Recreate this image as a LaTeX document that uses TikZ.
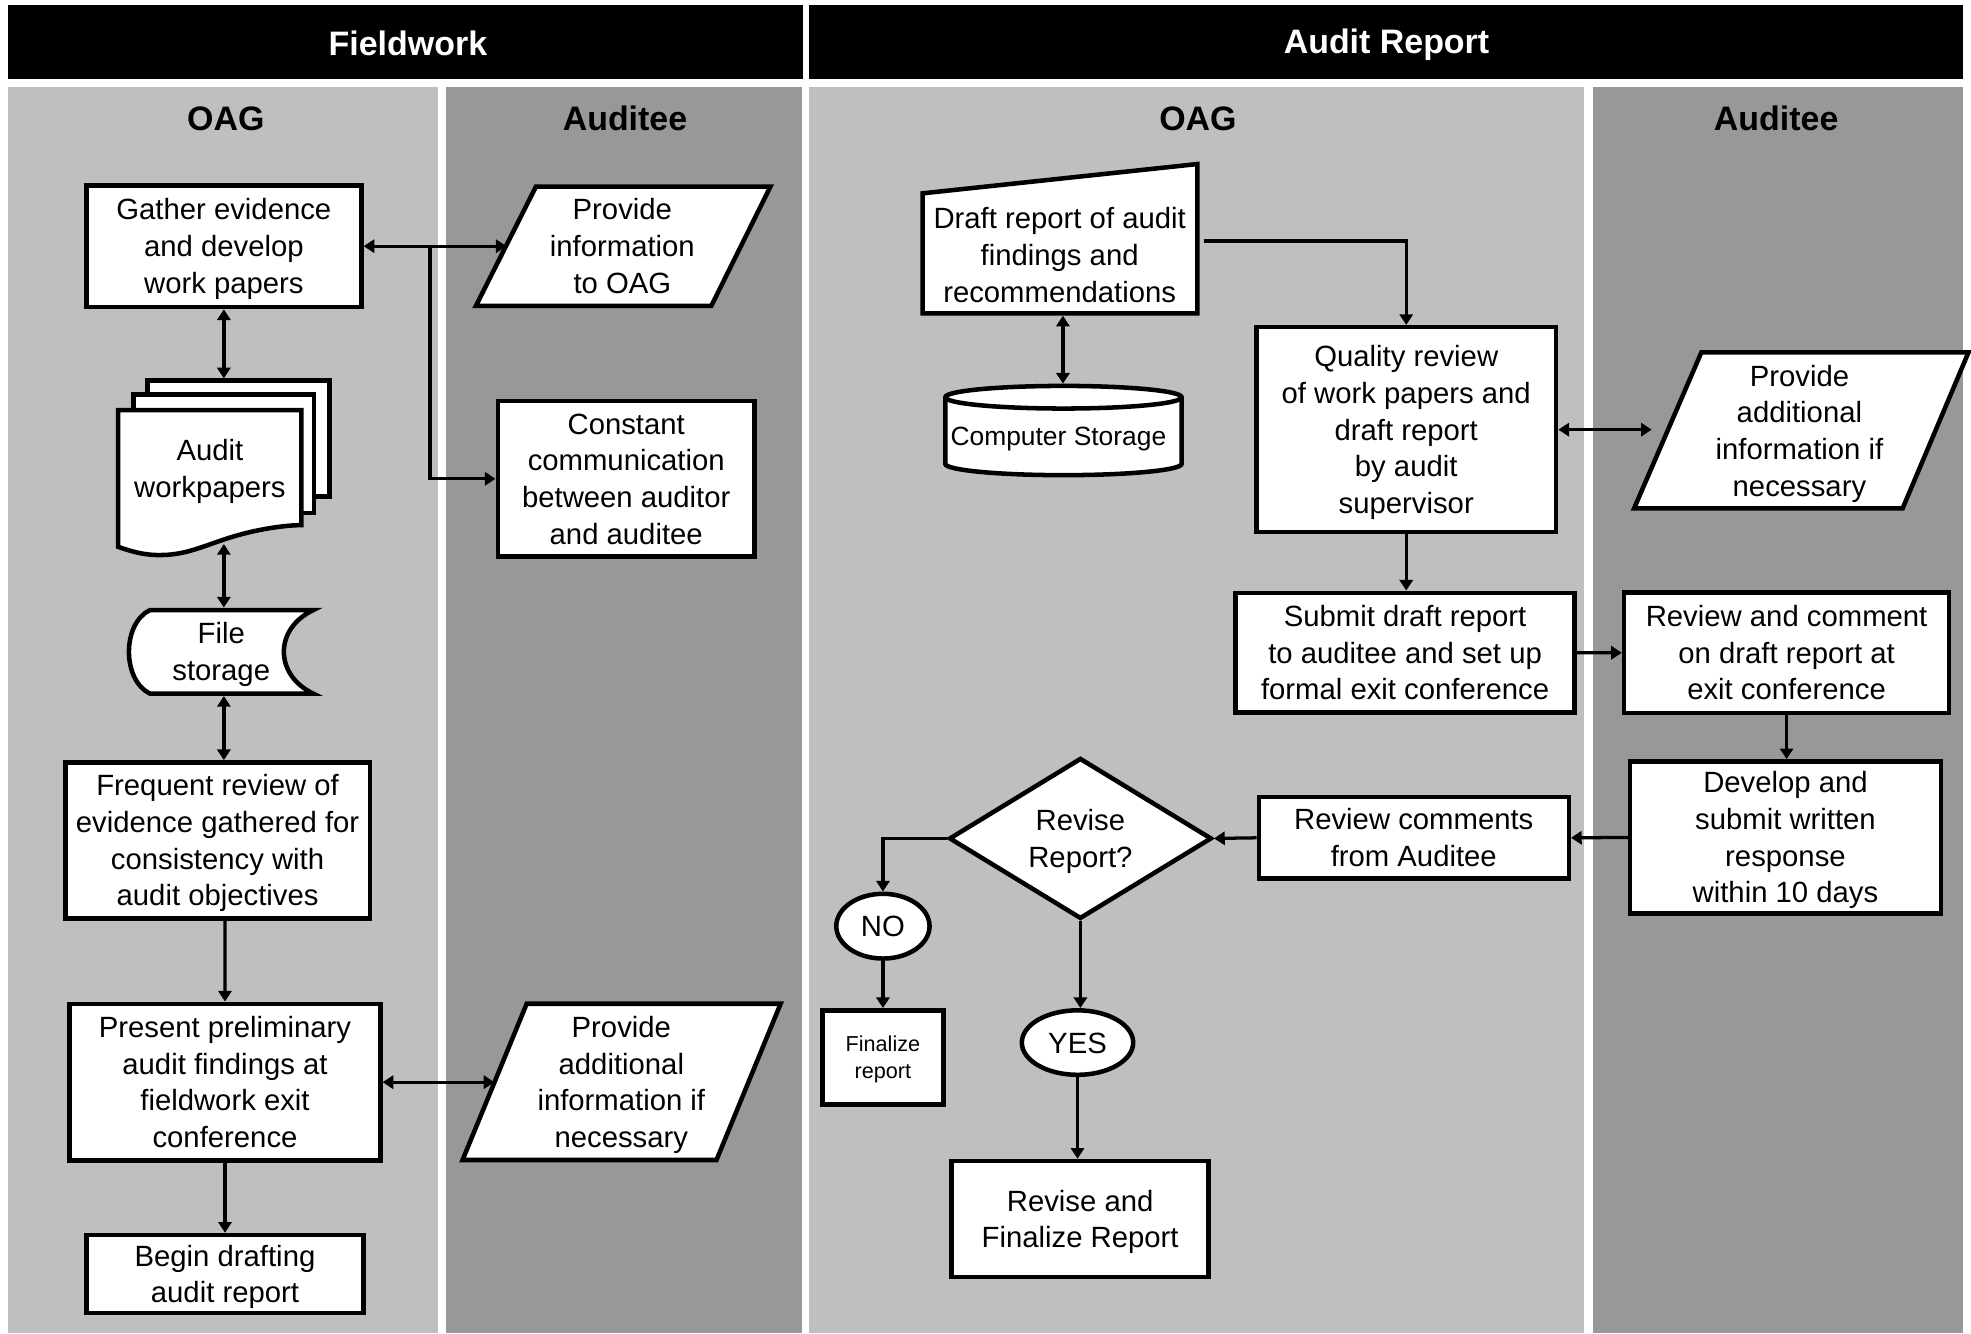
\documentclass[tikz,border=0pt]{standalone}
\usepackage{fontspec}
\setmainfont{Liberation Sans}
\usetikzlibrary{arrows.meta,shapes.geometric,calc}
\definecolor{lanelight}{RGB}{191,191,191}
\definecolor{lanedark}{RGB}{152,152,152}
\newcommand\bodyfont{\fontsize{23.3}{29.2}\selectfont}
\newcommand\headfont{\fontsize{27}{32}\selectfont\bfseries}
\newcommand\bstrut{\rule[-6.3pt]{0pt}{29.2pt}}
\newcommand\hstrut{\rule[-2.3pt]{0pt}{24pt}}
\newcommand\sstrut{\rule[-2.5pt]{0pt}{20pt}}
\newcommand\fstrut{\rule[-4.6pt]{0pt}{21.5pt}}
\newcommand\TB[1]{\bstrut#1\bstrut}
\newcommand\TF[1]{\fstrut#1\fstrut}
\begin{document}
\begin{tikzpicture}[x=1pt,y=-1pt,
  shp/.style={draw=black, line width=3.6pt, fill=white, line join=miter},
  box/.style={shp, rectangle, inner sep=0pt, align=center, font=\bodyfont},
  txt/.style={inner sep=0pt, align=center, font=\bodyfont},
  oval/.style={shp, ellipse, inner sep=0pt, font=\bodyfont,
    execute at begin node=\bstrut, execute at end node=\bstrut},
  arr/.style={line width=2.6pt, -{Triangle[length=8.5pt,width=10.5pt]}},
  darr/.style={line width=2.6pt, {Triangle[length=8.5pt,width=10.5pt]}-{Triangle[length=8.5pt,width=10.5pt]}},
  head/.style={text=white, font=\headfont, inner sep=0pt,
    execute at begin node=\hstrut, execute at end node=\hstrut},
  lanelabel/.style={text=black, font=\headfont, inner sep=0pt,
    execute at begin node=\hstrut, execute at end node=\hstrut}]
\useasboundingbox (0,0) rectangle (1568,1060.5);
\fill[white] (0,0) rectangle (1568,1060.5);
% headers
\fill[black] (6.2,4.3) rectangle (638.5,62.9);
\fill[black] (643.6,4.3) rectangle (1561.7,62.9);
\node[head] (hfw) at (324.5,34.5) {Fieldwork};
\node[head] (har) at (1103,34.8) {Audit Report};
% lanes
\fill[lanelight] (6.2,69.3) rectangle (348.7,1060.5);
\fill[lanedark] (354.5,69.3) rectangle (637.8,1060.5);
\fill[lanelight] (643.6,69.3) rectangle (1260.4,1060.5);
\fill[lanedark] (1267.5,69.3) rectangle (1561.7,1060.5);
\node[lanelabel] (l1) at (179.7,94.1) {OAG};
\node[lanelabel] (l2) at (497.2,94.1) {Auditee};
\node[lanelabel] (l3) at (953,94.1) {OAG};
\node[lanelabel] (l4) at (1413,94.1) {Auditee};

% ===== Fieldwork =====
\node[box, minimum width=218.8pt, minimum height=96.9pt] (gather) at (178.1,195.85)
  {\TB{Gather evidence\\and develop\\work papers}};
% provide information parallelogram
\draw[shp] (426.4,148.4) -- (612.9,148.4) -- (565.9,243.3) -- (378.6,243.3) -- cycle;
\node[txt] (provinfo) at (495.1,195.7) {\TB{Provide\\information\\to OAG}};
\coordinate (provinfoW) at (403,195.85);
% audit workpapers (multi-document)
\draw[shp] (117.5,302.9) rectangle (262,395);
\draw[shp] (106,314) rectangle (249.8,408);
\draw[shp] (94,326.2) -- (239.7,326.2) -- (239.7,417.7)
  .. controls (225,418) and (205,421) .. (185,427)
  .. controls (165,433) and (150,441) .. (130,441.5)
  .. controls (118,442) and (108,440) .. (94,435) -- cycle;
\node[txt] (wp) at (167,372.5) {\TB{Audit\\workpapers}};
\coordinate (wpN) at (178.1,301);
\coordinate (wpS) at (178.1,432.8);
% constant communication
\node[box, minimum width=204.4pt, minimum height=124pt] (constant) at (498.2,380.9)
  {\TB{Constant\\communication\\between auditor\\and auditee}};
% file storage
\draw[shp] (119.3,485.3) -- (249.3,485.3) .. controls (218,500) and (218,537) .. (249.3,551.8)
  -- (119.3,551.8) .. controls (97,541) and (97,496) .. (119.3,485.3) -- cycle;
\node[txt] (fstore) at (176,518.4) {\TB{File\\storage}};
\coordinate (fsN) at (178.1,483.3);
\coordinate (fsS) at (178.1,553.7);
% frequent review
\node[box, minimum width=242.2pt, minimum height=124pt] (frequent) at (173.1,668.5)
  {\TB{Frequent review of\\evidence gathered for\\consistency with\\audit objectives}};
% present preliminary
\node[box, minimum width=247.1pt, minimum height=124.7pt] (present) at (179,860.9)
  {\TB{Present preliminary\\audit findings at\\fieldwork exit\\conference}};
% provide additional (fieldwork)
\draw[shp] (419,798.5) -- (621,798.5) -- (570,922.8) -- (368,922.8) -- cycle;
\node[txt] (provaddF) at (494.3,860.9) {\TB{Provide\\additional\\information if\\necessary}};
\coordinate (provaddFW) at (393.3,860.9);
% begin drafting
\node[box, minimum width=220.5pt, minimum height=62pt] (begin) at (179,1013.5)
  {\TB{Begin drafting\\audit report}};

% Fieldwork connectors
\coordinate (br) at (342,195.85);
\draw[darr] (gather.east) -- (provinfoW);
\draw[arr] (br) |- (constant.west);
\draw[darr] (gather.south -| wpN) -- (wpN);
\draw[darr] (wpS) -- (fsN);
\draw[darr] (fsS) -- (fsS |- frequent.north);
\draw[arr] ([xshift=5.8pt]frequent.south) -- (present.north);
\draw[darr] (present.east) -- (provaddFW);
\draw[arr] (present.south) -- (begin.north);

% ===== Audit Report =====
% draft report (manual input)
\draw[shp] (734,153.8) -- (952.5,130.5) -- (952.5,249.3) -- (734,249.3) -- cycle;
\node[txt] (draft) at (843,202.8) {\TB{Draft report of audit\\findings and\\recommendations}};
\coordinate (draftS) at (845.6,251.1);
\coordinate (draftE) at (958,191.8);
% computer storage cylinder
\draw[shp] (752,316) -- (752,369) arc[start angle=180, end angle=360, x radius=94pt, y radius=9pt]
  -- (940,316) arc[start angle=0, end angle=180, x radius=94pt, y radius=9pt] -- cycle;
\draw[draw=black, line width=3.6pt] (752,316) arc[start angle=180, end angle=360, x radius=94pt, y radius=9pt];
\node[inner sep=0pt, font=\fontsize{21}{25}\selectfont, execute at begin node=\sstrut, execute at end node=\sstrut]
  (cstore) at (842,347.5) {Computer Storage};
\coordinate (cstoreN) at (845.6,305.2);
% quality review
\node[box, minimum width=238.4pt, minimum height=163pt] (quality) at (1118.7,341.8)
  {\TB{Quality review\\of work papers and\\draft report\\by audit\\supervisor}};
% provide additional (audit)
\draw[shp] (1353.5,280.3) -- (1566,280.3) -- (1513.6,404.4) -- (1300,404.4) -- cycle;
\node[txt] (provaddA) at (1431.5,342.6) {\TB{Provide\\additional\\information if\\necessary}};
\coordinate (provaddAW) at (1314,341.8);
% submit draft report
\node[box, minimum width=269.8pt, minimum height=95.1pt] (submit) at (1117.8,519.2)
  {\TB{Submit draft report\\to auditee and set up\\formal exit conference}};
% review and comment
\node[box, minimum width=258.5pt, minimum height=95.5pt] (reviewc) at (1421.3,519.3)
  {\TB{Review and comment\\on draft report at\\exit conference}};
% develop and submit
\node[box, minimum width=247.2pt, minimum height=120.9pt] (develop) at (1420.4,666.2)
  {\TB{Develop and\\submit written\\response\\within 10 days}};
% review comments
\node[box, minimum width=246.6pt, minimum height=65.1pt] (revcom) at (1124.7,666.5)
  {\TB{Review comments\\from Auditee}};
% decision
\node[shp, diamond, inner sep=0pt, minimum width=209pt, minimum height=128pt] (dia) at (859.5,667) {};
\node[txt] (diatext) at (859.5,667.3) {\TB{Revise\\Report?}};
% NO / YES
\node[oval, minimum width=74.2pt, minimum height=51.5pt] (no) at (702.4,736.8) {NO};
\node[oval, minimum width=88.6pt, minimum height=51.3pt] (yes) at (857.2,829.4) {YES};
% finalize report
\node[box, font=\fontsize{17.2}{21.5}\selectfont, minimum width=96.2pt, minimum height=74.8pt]
  (finalize) at (702.4,841.1) {\TF{Finalize\\report}};
% revise and finalize
\node[box, minimum width=204.5pt, minimum height=92.4pt] (revfin) at (859.3,969.8)
  {\TB{Revise and\\Finalize Report}};

% Audit connectors
\draw[darr] (draftS) -- (cstoreN);
\draw[arr] (draftE) -| (quality.north);
\draw[darr] (quality.east) -- (provaddAW);
\draw[arr] (quality.south) -- (quality.south |- submit.north);
\draw[arr] (submit.east) -- (reviewc.west);
\draw[arr] (reviewc.south) -- (reviewc.south |- develop.north);
\draw[arr] (develop.west) -- (revcom.east);
\draw[arr] (revcom.west) -- (dia.east);
\draw[arr] (dia.west) -| (no.north);
\draw[arr] (no.south) -- (finalize.north);
\draw[arr] (dia.south) -- (dia.south |- yes.north);
\draw[arr] (yes.south) -- (yes.south |- revfin.north);
\end{tikzpicture}
\end{document}
